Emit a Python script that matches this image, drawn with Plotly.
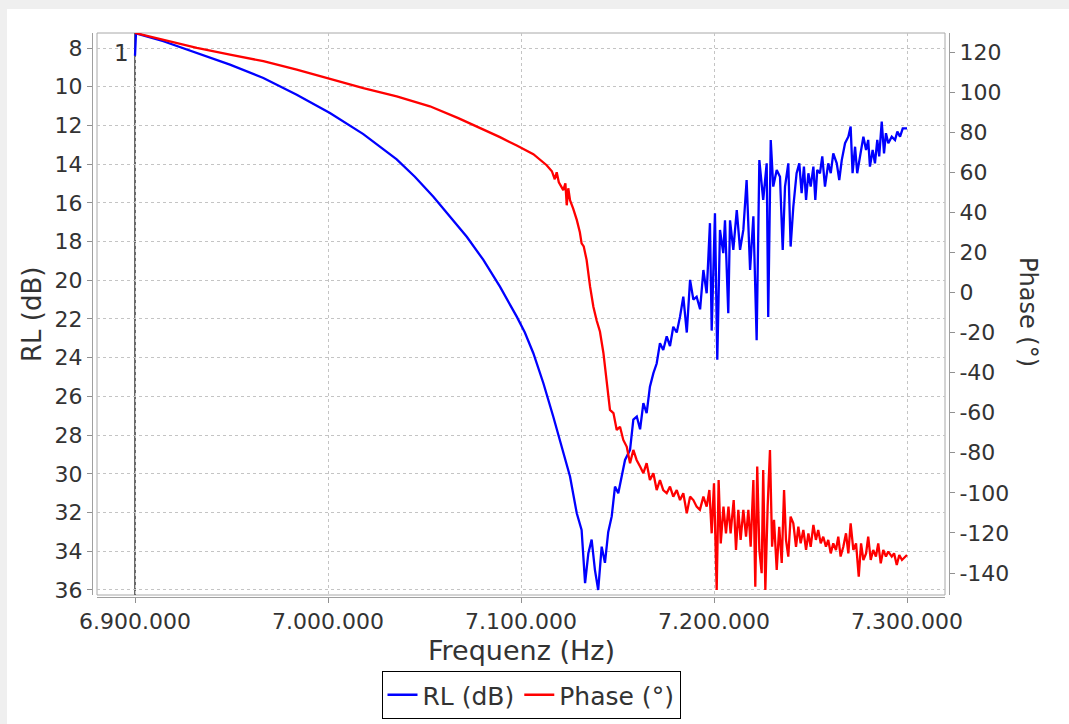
import plotly.graph_objects as go

# ---------------- data ----------------
rl_freq_khz = [
    6900.0, 6900.5, 6914.7, 6932.0, 6949.2, 6966.5, 6983.8, 7001.0, 7018.3, 7035.6,
    7045.0, 7054.6, 7063.2, 7071.9, 7080.5, 7089.1, 7097.8, 7102.0, 7106.4, 7111.6,
    7116.7, 7121.9, 7125.4, 7128.9, 7131.4, 7133.2, 7134.9, 7136.6, 7138.3, 7140.0,
    7141.8, 7143.5, 7145.2, 7147.0, 7148.7, 7150.4, 7152.2, 7153.9, 7156.5, 7158.2,
    7160.0, 7161.7, 7163.4, 7165.1, 7166.8, 7168.6, 7170.3, 7172.0, 7173.7, 7175.5,
    7177.2, 7178.9, 7180.7, 7182.4, 7184.1, 7185.9, 7187.6, 7189.3, 7191.0, 7192.8,
    7194.5, 7196.2, 7197.9, 7198.8, 7200.5, 7201.7, 7203.1, 7204.8, 7205.7, 7207.4,
    7208.3, 7210.0, 7211.8, 7213.5, 7215.2, 7216.9, 7218.7, 7220.4, 7222.1, 7223.5,
    7225.5, 7227.3, 7228.1, 7229.4, 7230.7, 7232.5, 7234.2, 7235.6, 7236.8, 7238.5,
    7239.7, 7241.1, 7242.8, 7244.2, 7245.4, 7246.6, 7247.7, 7248.9, 7250.1, 7251.5,
    7252.5, 7253.5, 7254.9, 7256.1, 7257.5, 7259.2, 7260.5, 7261.8, 7263.6, 7264.9,
    7266.2, 7267.9, 7269.6, 7270.8, 7271.8, 7273.1, 7274.2, 7275.6, 7277.4, 7278.8,
    7279.9, 7280.8, 7282.2, 7283.4, 7284.6, 7285.6, 7286.9, 7288.1, 7289.1, 7290.3,
    7292.1, 7293.8, 7295.0, 7296.4, 7297.8, 7300.0,
]
rl_db = [
    8.4, 7.24, 7.65, 8.26, 8.86, 9.55, 10.41, 11.36, 12.45, 13.75,
    14.65, 15.68, 16.71, 17.75, 18.95, 20.33, 21.88, 22.7, 23.77, 25.32,
    27.04, 28.94, 30.14, 32.04, 32.9, 35.65, 34.1, 33.4, 34.96, 36.0,
    33.76, 34.6, 33.0, 32.2, 30.66, 31.0, 30.14, 29.28, 28.76, 27.2,
    27.04, 27.7, 26.35, 26.86, 25.5, 24.8, 24.3, 23.25, 23.6, 22.9,
    23.4, 22.4, 22.7, 21.88, 20.85, 22.7, 19.98, 21.0, 20.85, 21.5,
    19.47, 20.67, 17.05, 22.6, 16.54, 24.1, 17.4, 18.6, 16.9, 21.7,
    16.9, 18.43, 16.37, 18.43, 17.4, 14.82, 19.47, 16.7, 23.1, 13.79,
    15.85, 13.96, 21.9, 12.75, 15.16, 14.3, 14.65, 18.43, 15.16, 13.96,
    18.26, 16.2, 14.47, 13.96, 15.5, 14.13, 15.85, 14.47, 15.16, 14.13,
    15.85, 14.3, 14.47, 13.6, 15.16, 13.96, 14.47, 13.44, 13.96, 14.82,
    13.79, 12.92, 12.58, 12.06, 14.47, 13.1, 14.47, 13.6, 12.58, 13.27,
    12.75, 14.13, 13.27, 13.96, 12.75, 13.6, 11.8, 13.44, 12.4, 12.92,
    12.58, 12.75, 12.32, 12.58, 12.15, 12.15,
]

phase_freq_khz = [
    6900.0, 6914.7, 6932.0, 6949.2, 6966.5, 6983.8, 7001.0, 7018.3, 7035.6, 7052.8,
    7067.5, 7080.5, 7089.1, 7097.8, 7106.4, 7113.3, 7116.0, 7117.5,
    7118.5, 7119.6, 7121.9, 7123.0, 7123.7, 7124.5, 7125.4, 7127.0, 7128.9, 7130.5,
    7131.4, 7132.5, 7134.0, 7135.8, 7137.5, 7139.2, 7140.9, 7142.7, 7144.4, 7146.1,
    7147.9, 7149.6, 7151.3, 7153.0, 7154.8, 7156.5, 7158.2, 7159.9, 7161.7, 7163.4,
    7165.1, 7166.8, 7168.6, 7170.3, 7172.0, 7173.7, 7175.5, 7177.2, 7178.9, 7180.7,
    7182.4, 7184.1, 7185.9, 7187.6, 7189.3, 7191.0, 7192.7, 7194.5, 7196.2, 7197.6,
    7198.8, 7200.0, 7201.4, 7202.4, 7203.5, 7204.9, 7206.2, 7207.5, 7208.6, 7210.2,
    7211.4, 7212.6, 7213.8, 7215.2, 7216.6, 7217.8, 7219.0, 7220.4, 7221.4, 7222.4,
    7223.5, 7224.7, 7225.5, 7226.6, 7227.8, 7229.0, 7230.1, 7231.1, 7232.5, 7233.8,
    7235.1, 7236.3, 7237.3, 7238.5, 7239.7, 7241.1, 7242.5, 7243.7, 7244.9, 7246.3,
    7247.7, 7248.9, 7250.1, 7251.5, 7252.8, 7254.0, 7255.3, 7256.6, 7258.0, 7259.2,
    7260.5, 7261.8, 7263.2, 7264.4, 7265.6, 7267.0, 7268.4, 7269.6, 7270.8, 7272.2,
    7273.6, 7275.0, 7276.2, 7277.4, 7278.8, 7279.9, 7281.2, 7282.5, 7283.9, 7285.1,
    7286.4, 7287.7, 7289.1, 7290.3, 7292.1, 7293.3, 7294.7, 7296.0, 7297.4, 7300.0,
]
phase_deg = [
    129.5, 126.1, 122.0, 118.7, 115.4, 111.2, 106.7, 102.0, 97.9, 92.9,
    87.0, 81.5, 77.5, 73.3, 69.0, 63.5, 60.5, 56.5,
    60.0, 55.0, 51.1, 54.5, 43.5, 52.0, 46.0, 42.0, 36.2, 30.0,
    24.5, 23.0, 16.2, 2.9, -7.1, -14.0, -19.5, -30.2, -45.0, -58.6,
    -60.2, -68.6, -67.0, -73.6, -77.0, -85.2, -78.6, -83.6, -86.9, -90.2,
    -85.2, -93.6, -90.2, -98.6, -93.6, -98.6, -100.2, -96.9, -101.9, -98.6,
    -103.6, -100.2, -110.2, -101.9, -103.6, -106.9, -108.5, -101.9, -106.9, -98.6,
    -120.2, -95.2, -148.5, -93.6, -125.2, -106.9, -120.2, -106.9, -120.2, -103.6,
    -128.5, -108.5, -123.5, -108.5, -121.9, -108.5, -126.9, -93.6, -146.8, -86.9,
    -128.5, -140.1, -88.6, -148.5, -106.9, -78.6, -126.9, -113.5, -138.5, -116.9,
    -135.0, -98.6, -123.5, -131.8, -111.9, -115.2, -126.9, -116.9, -125.2, -118.5,
    -128.5, -120.2, -126.9, -116.0, -123.5, -118.5, -125.2, -121.9, -126.9, -123.5,
    -130.2, -125.2, -128.5, -121.9, -131.8, -126.9, -120.2, -130.2, -115.2, -128.5,
    -125.2, -141.8, -125.2, -133.5, -130.2, -121.9, -133.5, -128.5, -131.8, -125.2,
    -135.2, -128.5, -131.8, -129.3, -131.8, -130.2, -136.0, -131.0, -133.5, -131.0,
]

x_tick_vals = [6900000, 7000000, 7100000, 7200000, 7300000]
x_tick_text = ["6.900.000", "7.000.000", "7.100.000", "7.200.000", "7.300.000"]
rl_tick_vals = [8, 10, 12, 14, 16, 18, 20, 22, 24, 26, 28, 30, 32, 34, 36]
phase_tick_vals = [120, 100, 80, 60, 40, 20, 0, -20, -40, -60, -80, -100, -120, -140]
phase_tick_text = ["120", "100", "80", "60", "40", "20", "0", "-20", "-40", "-60",
                   "-80", "-100", "-120", "-140"]
marker_freq = 6900000
marker_label = "1"

rl_hz = [f * 1000 for f in rl_freq_khz]
phase_hz = [f * 1000 for f in phase_freq_khz]

# ---------------- figure ----------------
W, H = 1069, 724
ML, MR, MT, MB = 92, 120, 33, 127
PW = W - ML - MR          # paper width in px
PH = H - MT - MB          # paper height in px


def px_x(px):
    return (px - ML) / PW


def px_y(py):
    return (H - MB - py) / PH


TXT = "#333333"
FONT = "DejaVu Sans"

fig = go.Figure()
fig.add_trace(go.Scatter(
    x=rl_hz, y=rl_db, mode="lines", name="RL (dB)",
    line=dict(color="#0000ff", width=2.3), yaxis="y",
))
fig.add_trace(go.Scatter(
    x=phase_hz, y=phase_deg, mode="lines", name="Phase (°)",
    line=dict(color="#ff0000", width=2.3), yaxis="y2",
))

axis_common = dict(
    ticks="outside", ticklen=5, tickcolor="#909090", tickwidth=1,
    showline=True, linecolor="#a0a0a0", linewidth=1,
    zeroline=False, tickfont=dict(family=FONT, size=22, color=TXT),
)

fig.update_layout(
    width=W, height=H,
    margin=dict(l=ML, r=MR, t=MT, b=MB, autoexpand=False),
    paper_bgcolor="#efefef", plot_bgcolor="white",
    font=dict(family=FONT, color=TXT, size=22),
    showlegend=True,
    xaxis=dict(
        domain=[px_x(97), px_x(945)], anchor="free", position=0,
        range=[6880310, 7319690],
        tickvals=x_tick_vals, ticktext=x_tick_text,
        showgrid=True, gridcolor="#c4c4c4", griddash="dot", gridwidth=1,
        **axis_common,
    ),
    yaxis=dict(
        domain=[px_y(595), 1], anchor="free", position=0,
        range=[36.26, 7.225],
        tickvals=rl_tick_vals,
        showgrid=True, gridcolor="#c4c4c4", griddash="dot", gridwidth=1,
        **axis_common,
    ),
    yaxis2=dict(
        overlaying="y", side="right", anchor="free", position=1,
        range=[-150.98, 129.48],
        tickvals=phase_tick_vals, ticktext=phase_tick_text,
        showgrid=False,
        **axis_common,
    ),
    legend=dict(
        orientation="h", x=px_x(531), xanchor="center",
        y=px_y(671), yanchor="top",
        bgcolor="white", bordercolor="#000000", borderwidth=1,
        font=dict(family=FONT, size=25, color=TXT),
        itemwidth=30,
    ),
    shapes=[
        # white panel over the light-grey page
        dict(type="rect", xref="paper", yref="paper",
             x0=px_x(7), x1=px_x(W + 5), y0=px_y(H + 5), y1=px_y(9),
             fillcolor="white", line=dict(width=0), layer="below"),
        # inner plot frame
        dict(type="rect", xref="x domain", yref="y domain",
             x0=0, x1=1, y0=0, y1=1,
             line=dict(color="#a8a8a8", width=1), layer="below"),
        # marker line
        dict(type="line", xref="x", yref="y domain",
             x0=marker_freq, x1=marker_freq, y0=0, y1=1,
             line=dict(color="#6a6a6a", width=2), layer="below"),
    ],
    annotations=[
        dict(text=marker_label, x=marker_freq, xref="x", xanchor="right", xshift=-4,
             y=px_y(53), yref="paper", yanchor="middle", showarrow=False,
             font=dict(family=FONT, size=23, color=TXT)),
        dict(text="RL (dB)", x=px_x(32), xref="paper", xanchor="center",
             y=px_y(315), yref="paper", yanchor="middle", textangle=-90,
             showarrow=False, font=dict(family=FONT, size=26, color=TXT)),
        dict(text="Phase (°)", x=px_x(1028), xref="paper", xanchor="center",
             y=px_y(312), yref="paper", yanchor="middle", textangle=90,
             showarrow=False, font=dict(family=FONT, size=24, color=TXT)),
        dict(text="Frequenz (Hz)", x=px_x(521), xref="paper", xanchor="center",
             y=px_y(650), yref="paper", yanchor="middle",
             showarrow=False, font=dict(family=FONT, size=27, color=TXT)),
    ],
)

fig.write_html(
    "out.html",
    config={"displayModeBar": False},
    post_script="document.body.style.margin='0';",
)
